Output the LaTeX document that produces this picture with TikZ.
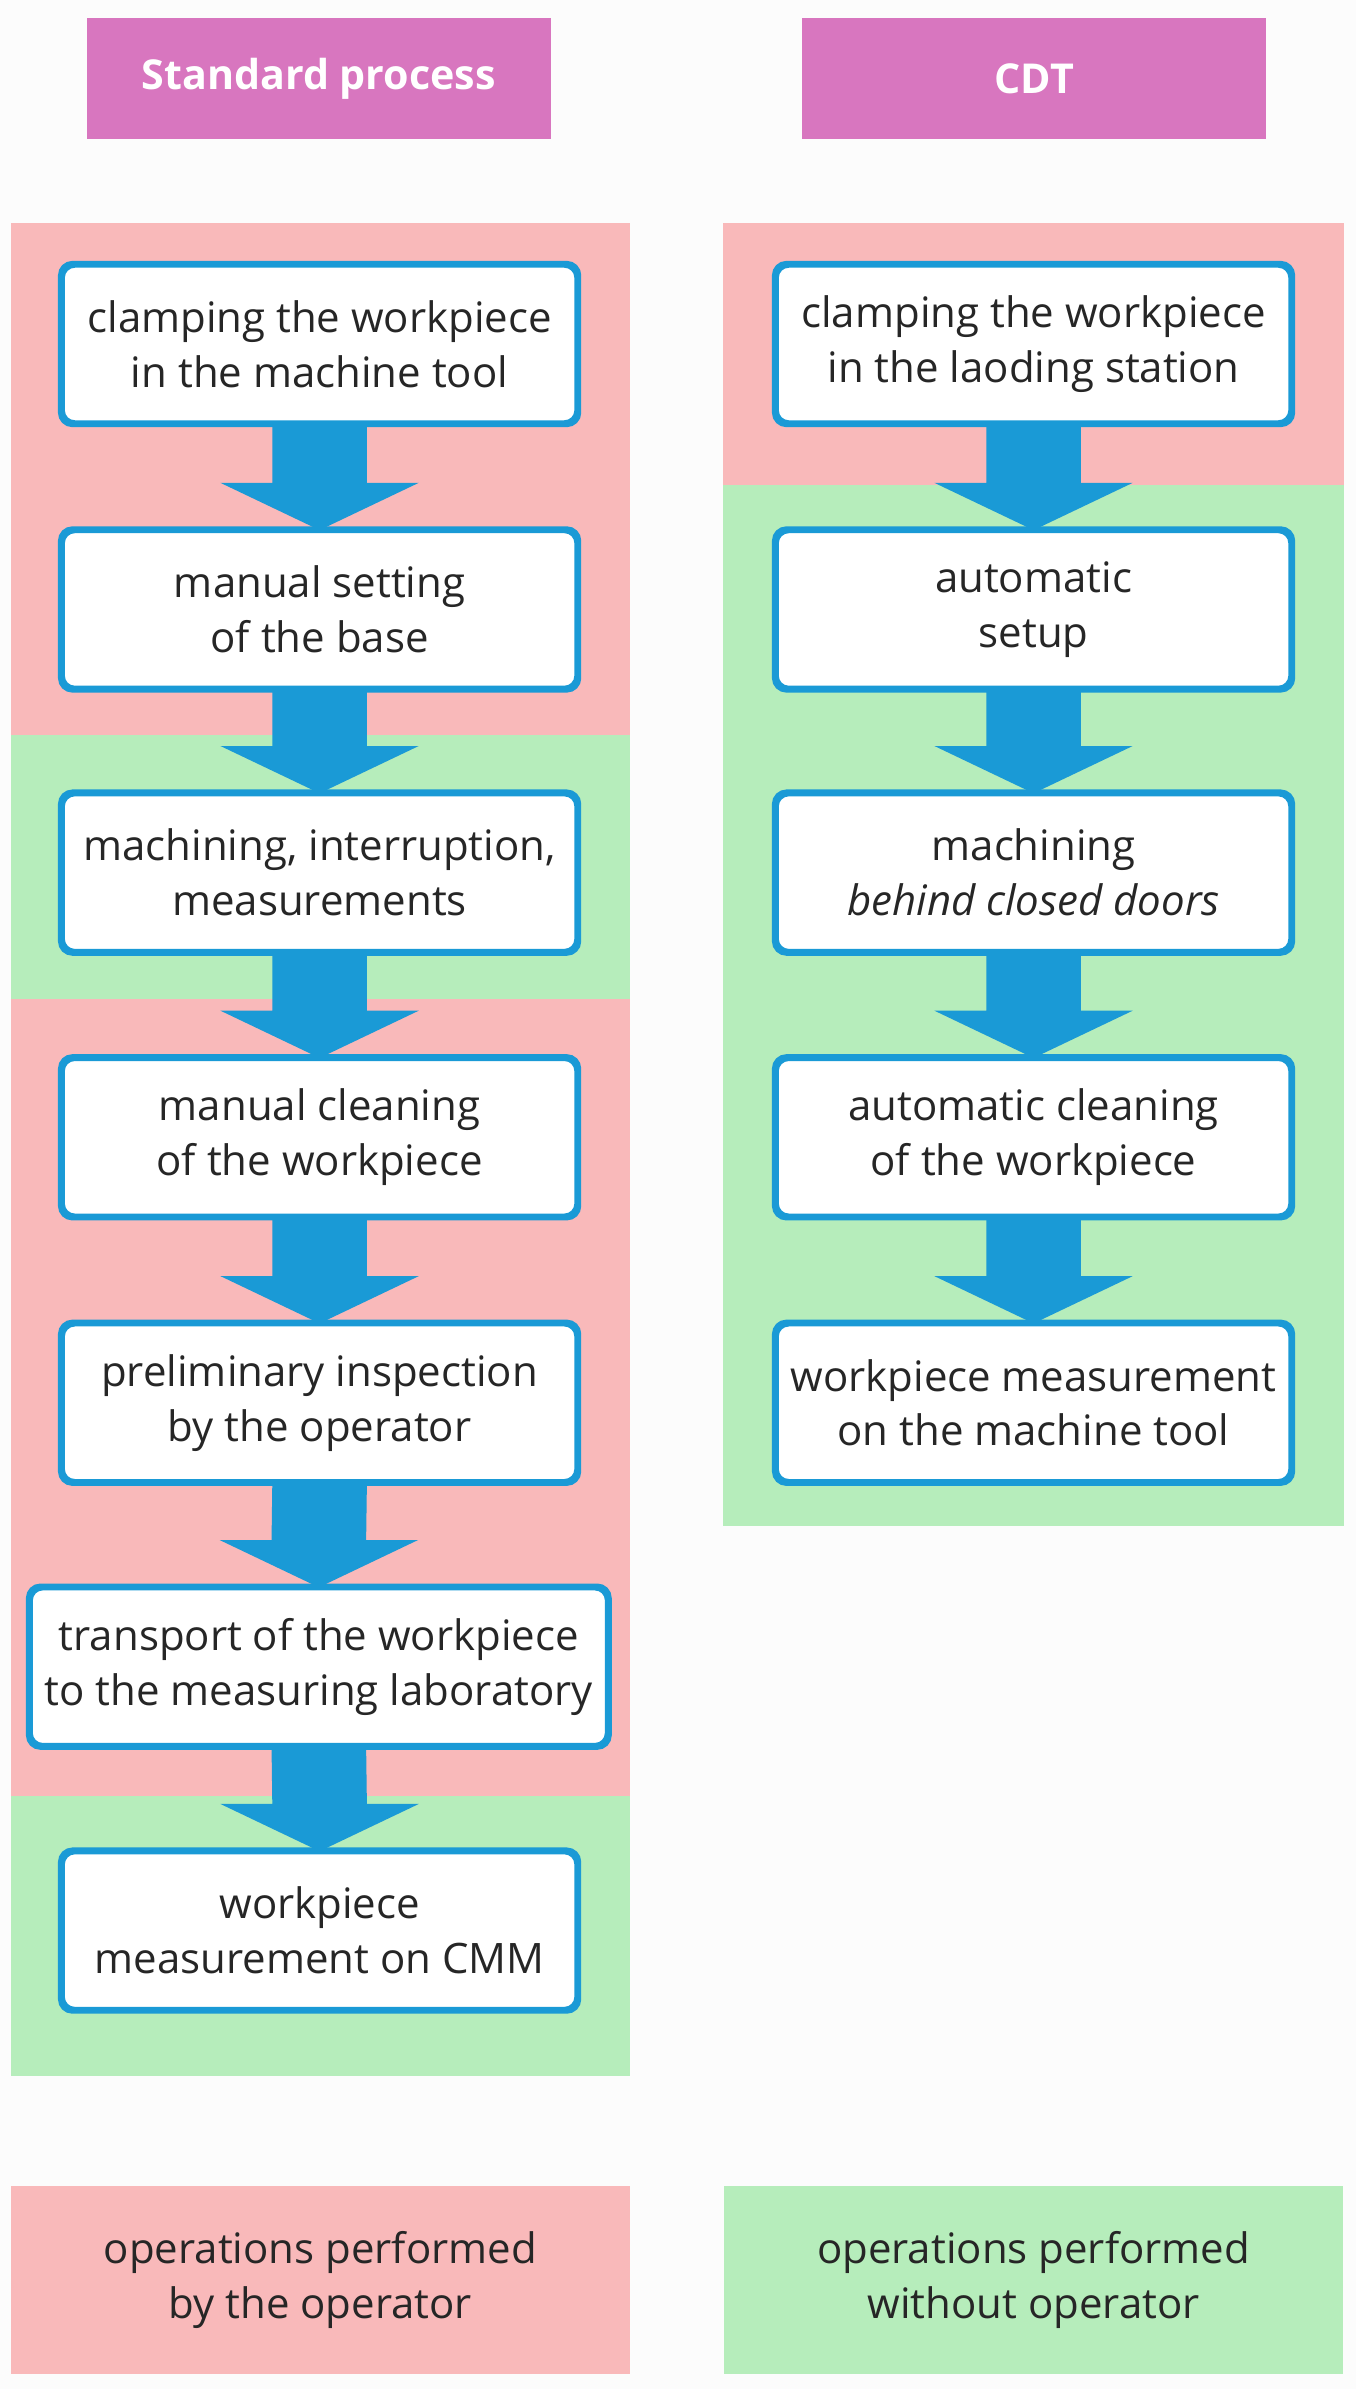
\documentclass[tikz,border=0pt]{standalone}
\usepackage{fontspec}
\setmainfont{Open Sans}
\usetikzlibrary{calc}
\definecolor{mag}{HTML}{D876BF}
\definecolor{pinkbg}{HTML}{F9B9BA}
\definecolor{greenbg}{HTML}{B6EDBB}
\definecolor{ablue}{HTML}{1A9AD6}
\tikzset{
 box/.style={draw=ablue,line width=3pt,rounded corners=8pt,fill=white,minimum width=337pt,minimum height=103pt,align=center,inner sep=1pt,font=\fontsize{27.5}{36}\selectfont,text=black!85},
 wbox/.style={box,minimum width=378pt},
 head/.style={fill=mag,minimum width=304pt,minimum height=79pt,font=\fontsize{27}{30}\selectfont\bfseries,text=white},
 leg/.style={minimum width=406pt,minimum height=123pt,align=center,font=\fontsize{27.5}{36}\selectfont,text=black!85}
}
\newcommand{\flow}[2]{\fill[ablue] ($(#1.south)+(-31,0)$) -- ($(#2.north)+(-31,30)$) -- ($(#2.north)+(-65,30)$) -- ($(#2.north)+(0,-1)$) -- ($(#2.north)+(65,30)$) -- ($(#2.north)+(31,30)$) -- ($(#1.south)+(31,0)$) -- cycle;}
\begin{document}
\begin{tikzpicture}[x=1pt,y=1pt]
\fill[white!99!black] (0,0) rectangle (889,-1566);
\useasboundingbox (0,0) rectangle (889,-1566);
% bands
\fill[pinkbg] (7,-146) rectangle (413,-482);
\fill[greenbg] (7,-482) rectangle (413,-655);
\fill[pinkbg] (7,-655) rectangle (413,-1177);
\fill[greenbg] (7,-1177) rectangle (413,-1361);
\fill[pinkbg] (474,-146) rectangle (881,-318);
\fill[greenbg] (474,-318) rectangle (881,-1000);
% headers
\node[head] (h1) at (209,-51.5) {Standard process};
\node[head] (h2) at (678,-51.5) {CDT};
% left boxes
\node[box] (l1) at (209.5,-225.5) {clamping the workpiece\\in the machine tool};
\node[box] (l2) at (209.5,-399.5) {manual setting\\of the base};
\node[box] (l3) at (209.5,-572) {machining, interruption,\\measurements};
\node[box] (l4) at (209.5,-745.5) {manual cleaning\\of the workpiece};
\node[box] (l5) at (209.5,-919.5) {preliminary inspection\\by the operator};
\node[wbox] (l6) at (209,-1092.5) {transport of the workpiece\\to the measuring laboratory};
\node[box] (l7) at (209.5,-1265.5) {workpiece\\measurement on CMM};
% right boxes
\node[box] (r1) at (677.5,-225.5) {clamping the workpiece\\in the laoding station};
\node[box] (r2) at (677.5,-399.5) {automatic\\setup};
\node[box] (r3) at (677.5,-572) {machining\\\textit{behind closed doors}};
\node[box] (r4) at (677.5,-745.5) {automatic cleaning\\of the workpiece};
\node[box] (r5) at (677.5,-919.5) {workpiece measurement\\on the machine tool};
% arrows
\flow{l1}{l2}\flow{l2}{l3}\flow{l3}{l4}\flow{l4}{l5}\flow{l5}{l6}\flow{l6}{l7}
\flow{r1}{r2}\flow{r2}{r3}\flow{r3}{r4}\flow{r4}{r5}
% redraw box borders on top of arrows
\foreach \n in {l1,l2,l3,l4,l5,l6,l7,r1,r2,r3,r4,r5}{\draw[ablue,line width=3pt,rounded corners=8pt] (\n.south west) rectangle (\n.north east);}
% legend
\node[leg,fill=pinkbg] (g1) at (210,-1494.5) {operations performed\\by the operator};
\node[leg,fill=greenbg] (g2) at (677.5,-1494.5) {operations performed\\without operator};
\end{tikzpicture}
\end{document}
